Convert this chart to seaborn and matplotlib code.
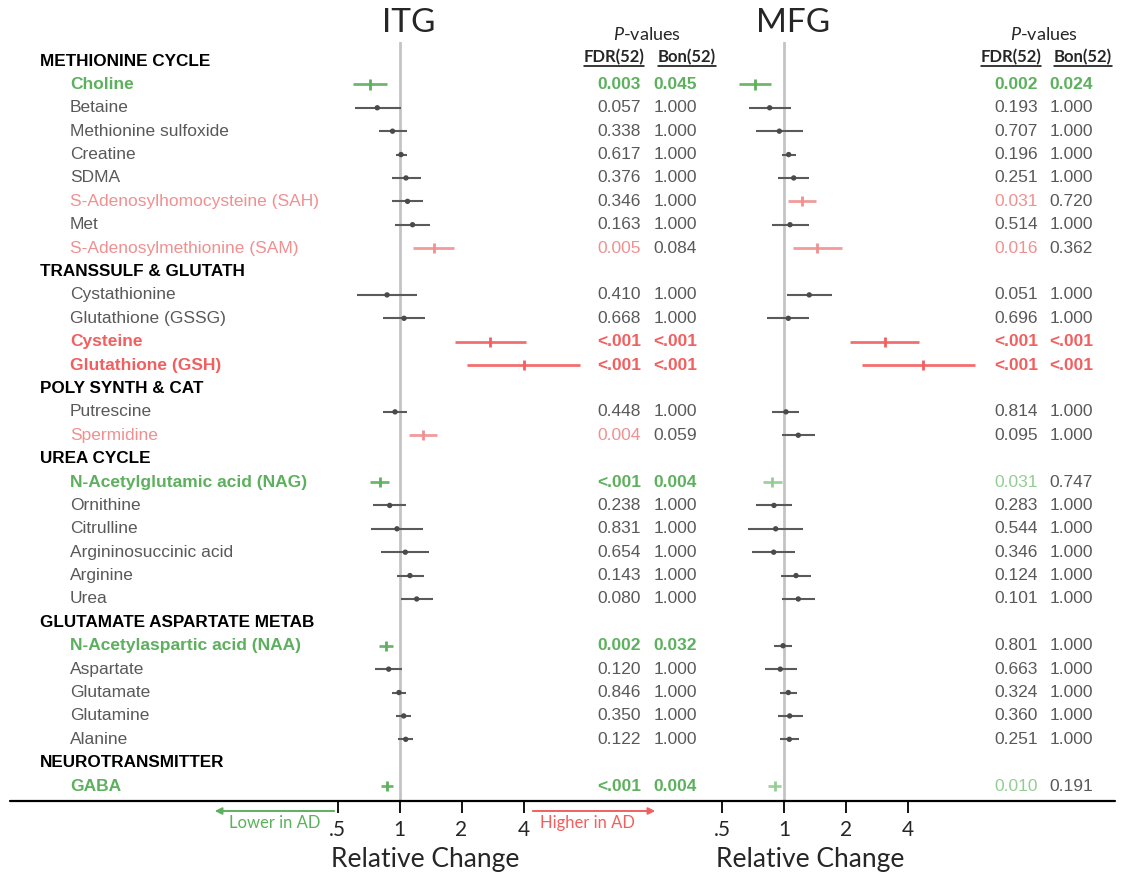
import numpy as np
import pandas as pd
import seaborn as sns
import matplotlib.pyplot as plt
from matplotlib.lines import Line2D
from matplotlib.transforms import blended_transform_factory
from matplotlib.ticker import NullLocator

# ---- data ----
groups = ["METHIONINE CYCLE", "TRANSSULF & GLUTATH", "POLY SYNTH & CAT",
          "UREA CYCLE", "GLUTAMATE ASPARTATE METAB", "NEUROTRANSMITTER"]
group_sizes = [8, 4, 2, 6, 5, 1]
metabolites = ["Choline", "Betaine", "Methionine sulfoxide", "Creatine", "SDMA",
               "S-Adenosylhomocysteine (SAH)", "Met", "S-Adenosylmethionine (SAM)",
               "Cystathionine", "Glutathione (GSSG)", "Cysteine", "Glutathione (GSH)",
               "Putrescine", "Spermidine",
               "N-Acetylglutamic acid (NAG)", "Ornithine", "Citrulline",
               "Argininosuccinic acid", "Arginine", "Urea",
               "N-Acetylaspartic acid (NAA)", "Aspartate", "Glutamate", "Glutamine", "Alanine",
               "GABA"]

itg_est = [0.72, 0.78, 0.925, 1.017, 1.075, 1.094, 1.157, 1.464,
           0.87, 1.052, 2.75, 4.02,
           0.951, 1.305,
           0.804, 0.896, 0.972, 1.067, 1.124, 1.212,
           0.86, 0.886, 0.994, 1.048, 1.072,
           0.87]
itg_lo = [0.595, 0.608, 0.795, 0.962, 0.92, 0.92, 0.951, 1.157,
          0.622, 0.832, 1.86, 2.127,
          0.834, 1.116,
          0.719, 0.746, 0.725, 0.813, 0.969, 1.013,
          0.792, 0.763, 0.92, 0.962, 0.987,
          0.81]
itg_hi = [0.87, 1.017, 1.087, 1.087, 1.272, 1.30, 1.406, 1.839,
          1.216, 1.33, 4.11, 7.52,
          1.091, 1.526,
          0.892, 1.075, 1.296, 1.395, 1.315, 1.449,
          0.933, 1.032, 1.075, 1.141, 1.159,
          0.933]
itg_fdr = ["0.003", "0.057", "0.338", "0.617", "0.376", "0.346", "0.163", "0.005",
           "0.410", "0.668", "<.001", "<.001",
           "0.448", "0.004",
           "<.001", "0.238", "0.831", "0.654", "0.143", "0.080",
           "0.002", "0.120", "0.846", "0.350", "0.122",
           "<.001"]
itg_bon = ["0.045", "1.000", "1.000", "1.000", "1.000", "1.000", "1.000", "0.084",
           "1.000", "1.000", "<.001", "<.001",
           "1.000", "0.059",
           "0.004", "1.000", "1.000", "1.000", "1.000", "1.000",
           "0.032", "1.000", "1.000", "1.000", "1.000",
           "0.004"]

mfg_est = [0.72, 0.849, 0.946, 1.05, 1.111, 1.215, 1.066, 1.441,
           1.322, 1.046, 3.07, 4.70,
           1.019, 1.169,
           0.872, 0.891, 0.908, 0.888, 1.14, 1.169,
           0.986, 0.956, 1.046, 1.062, 1.058,
           0.898]
mfg_lo = [0.60, 0.674, 0.731, 0.975, 0.929, 1.039, 0.872, 1.106,
          1.034, 0.827, 2.085, 2.376,
          0.874, 0.975,
          0.786, 0.726, 0.669, 0.699, 0.964, 0.971,
          0.888, 0.803, 0.953, 0.929, 0.956,
          0.836]
mfg_hi = [0.865, 1.078, 1.237, 1.136, 1.318, 1.42, 1.314, 1.90,
          1.699, 1.322, 4.52, 8.43,
          1.183, 1.414,
          0.975, 1.094, 1.237, 1.131, 1.352, 1.414,
          1.094, 1.149, 1.157, 1.228, 1.179,
          0.964]
mfg_fdr = ["0.002", "0.193", "0.707", "0.196", "0.251", "0.031", "0.514", "0.016",
           "0.051", "0.696", "<.001", "<.001",
           "0.814", "0.095",
           "0.031", "0.283", "0.544", "0.346", "0.124", "0.101",
           "0.801", "0.663", "0.324", "0.360", "0.251",
           "0.010"]
mfg_bon = ["0.024", "1.000", "1.000", "1.000", "1.000", "0.720", "1.000", "0.362",
           "1.000", "1.000", "<.001", "<.001",
           "1.000", "1.000",
           "0.747", "1.000", "1.000", "1.000", "1.000", "1.000",
           "1.000", "1.000", "1.000", "1.000", "1.000",
           "0.191"]

tick_values = [0.5, 1, 2, 4]
tick_labels = [".5", "1", "2", "4"]

# ---- styling ----
GREY_TXT = "#595959"
colors = {"ns": "#5A5A5A", "up_bon": "#F25F5F", "up_fdr": "#F09090",
          "dn_bon": "#5DB05D", "dn_fdr": "#93CD93"}
W, H = 1126, 875
ROW0_PX, ROW_STEP = 61, 23.39


def pval(s):
    return 0.0005 if s.startswith("<") else float(s)


def classify(est, fdr, bon):
    out = []
    for e, f, b in zip(est, fdr, bon):
        d = "up" if e > 1 else "dn"
        if pval(b) < 0.05:
            out.append(d + "_bon")
        elif pval(f) < 0.05:
            out.append(d + "_fdr")
        else:
            out.append("ns")
    return out


# row index of each header / metabolite
header_rows, metab_rows = [], []
r = 0
for n in group_sizes:
    header_rows.append(r)
    r += 1
    metab_rows.extend(range(r, r + n))
    r += n

itg_cls = classify(itg_est, itg_fdr, itg_bon)
mfg_cls = classify(mfg_est, mfg_fdr, mfg_bon)

sns.set_theme(style="white")
plt.rcParams["font.family"] = ["Liberation Sans", "DejaVu Sans"]
plt.rcParams["mathtext.fontset"] = "custom"
plt.rcParams["mathtext.it"] = "Lato:italic"
plt.rcParams["mathtext.rm"] = "Lato"

fig = plt.figure(figsize=(W / 100, H / 100), dpi=100)


def px_box(x0, x1, y0, y1):
    return [x0 / W, 1 - y1 / H, (x1 - x0) / W, (y1 - y0) / H]


def draw_region(ax, est, lo, hi, cls, one_px, title, fdr_x, bon_x, fdr, bon, rc_x):
    df = pd.DataFrame({"row": metab_rows, "est": est, "lo": lo, "hi": hi, "cls": cls})
    ax.axvline(1, color="#C4C4C4", lw=2, zorder=0)
    for c, sub in df.groupby("cls"):
        ax.hlines(sub["row"], sub["lo"], sub["hi"], color=colors[c],
                  lw=1.5 if c == "ns" else 2.0, alpha=1 if c == "ns" else 0.9, zorder=2)
    ns = df[df["cls"] == "ns"]
    sns.scatterplot(data=ns, x="est", y="row", color="#4A4A4A", s=15,
                    edgecolor="none", ax=ax, legend=False, zorder=3)
    sig = df[df["cls"] != "ns"]
    sns.scatterplot(data=sig, x="est", y="row", hue="cls", palette=colors,
                    marker="|", s=55, linewidth=2.0, ax=ax, legend=False, zorder=3)

    ax.set_xscale("log", base=2)
    pos = ax.get_position()
    left_px, right_px = pos.x0 * W, pos.x1 * W
    ax.set_xlim(2 ** ((left_px - one_px) / 62), 2 ** ((right_px - one_px) / 62))
    ax.set_ylim((801 - ROW0_PX) / ROW_STEP, (42 - ROW0_PX) / ROW_STEP)
    ax.set_xticks(tick_values)
    ax.set_xticklabels(tick_labels, fontfamily="Lato", fontsize=15)
    ax.xaxis.set_minor_locator(NullLocator())
    ax.set_yticks([])
    ax.tick_params(axis="x", direction="out", length=8.6, width=1.3, color="black",
                   pad=5, bottom=True)
    for s in ax.spines.values():
        s.set_visible(False)
    ax.set_xlabel("")
    ax.set_ylabel("")
    ax.patch.set_alpha(0)

    # title and relative change label
    fig.text(one_px / W + 0.008, 1 - 23 / H, title, ha="center", va="center",
             fontfamily="Lato", fontsize=24)
    fig.text(rc_x / W, 1 - 860 / H, "Relative Change", ha="center", va="center",
             fontfamily="Lato", fontsize=19)

    # p-value columns
    tr = blended_transform_factory(fig.transFigure, ax.transData)
    for row, c, f, b in zip(metab_rows, cls, fdr, bon):
        if c.endswith("bon"):
            fc, bc, wt = colors[c], colors[c], "bold"
        elif c.endswith("fdr"):
            fc, bc, wt = colors[c], GREY_TXT, "normal"
        else:
            fc, bc, wt = GREY_TXT, GREY_TXT, "normal"
        ax.text(fdr_x / W, row, f, transform=tr, ha="right", va="center",
                color=fc, fontsize=12.5, fontweight=wt)
        ax.text(bon_x / W, row, b, transform=tr, ha="right", va="center",
                color=bc, fontsize=12.5, fontweight=wt)

    # column headers
    fig.text((fdr_x + 6) / W, 1 - 34 / H, "$P$-values", ha="center",
             va="center", fontfamily="Lato", fontsize=13)
    hdrs = []
    for cx, lab in [(fdr_x - 27, "FDR(52)"), (bon_x - 10, "Bon(52)")]:
        hdrs.append(fig.text(cx / W, 1 - 57 / H, lab, ha="center", va="center",
                             fontfamily="Lato", fontweight="bold", fontsize=12))
    return hdrs


ax_itg = fig.add_axes(px_box(300, 590, 42, 801))
ax_mfg = fig.add_axes(px_box(690, 985, 42, 801))

hdr_texts = []
hdr_texts += draw_region(ax_itg, itg_est, itg_lo, itg_hi, itg_cls, 399.5, "ITG",
                         641, 697, itg_fdr, itg_bon, 425)
hdr_texts += draw_region(ax_mfg, mfg_est, mfg_lo, mfg_hi, mfg_cls, 784.3, "MFG",
                         1038, 1093, mfg_fdr, mfg_bon, 810)

# row labels
tr_lab = blended_transform_factory(fig.transFigure, ax_itg.transData)
for row, g in zip(header_rows, groups):
    ax_itg.text(40 / W, row, g, transform=tr_lab, ha="left", va="center",
                fontsize=12.3, fontweight="bold", color="black")
for i, (row, name) in enumerate(zip(metab_rows, metabolites)):
    a, b = itg_cls[i], mfg_cls[i]
    if a.endswith("bon") or b.endswith("bon"):
        c = a if a.endswith("bon") else b
        col, wt = colors[c], "bold"
    elif a.endswith("fdr") or b.endswith("fdr"):
        c = a if a.endswith("fdr") else b
        col, wt = colors[c], "normal"
    else:
        col, wt = GREY_TXT, "normal"
    ax_itg.text(70 / W, row, name, transform=tr_lab, ha="left", va="center",
                fontsize=12.5, fontweight=wt, color=col)

# bottom rule across the figure
fig.add_artist(Line2D([10 / W, 1115 / W], [1 - 801 / H, 1 - 801 / H],
                      color="black", lw=1.6))

# direction arrows
ax_itg.annotate("", xy=(212 / W, 1 - 811 / H), xytext=(337 / W, 1 - 811 / H),
                xycoords="figure fraction", textcoords="figure fraction",
                arrowprops=dict(arrowstyle="-|>", color=colors["dn_bon"], lw=1.4,
                                mutation_scale=10), annotation_clip=False)
ax_itg.annotate("", xy=(658 / W, 1 - 811 / H), xytext=(530 / W, 1 - 811 / H),
                xycoords="figure fraction", textcoords="figure fraction",
                arrowprops=dict(arrowstyle="-|>", color=colors["up_bon"], lw=1.4,
                                mutation_scale=10), annotation_clip=False)
fig.text(275 / W, 1 - 823 / H, "Lower in AD", ha="center", va="center",
         fontfamily="Lato", fontsize=12, color=colors["dn_bon"])
fig.text(587 / W, 1 - 823 / H, "Higher in AD", ha="center", va="center",
         fontfamily="Lato", fontsize=12, color=colors["up_bon"])

# underline the p-value column headers
fig.canvas.draw()
rend = fig.canvas.get_renderer()
for t in hdr_texts:
    bb = t.get_window_extent(rend)
    y = (bb.y0 - 1) / H
    fig.add_artist(Line2D([bb.x0 / W, bb.x1 / W], [y, y], color="black", lw=1.1))

fig.savefig("out.png", dpi=100)
